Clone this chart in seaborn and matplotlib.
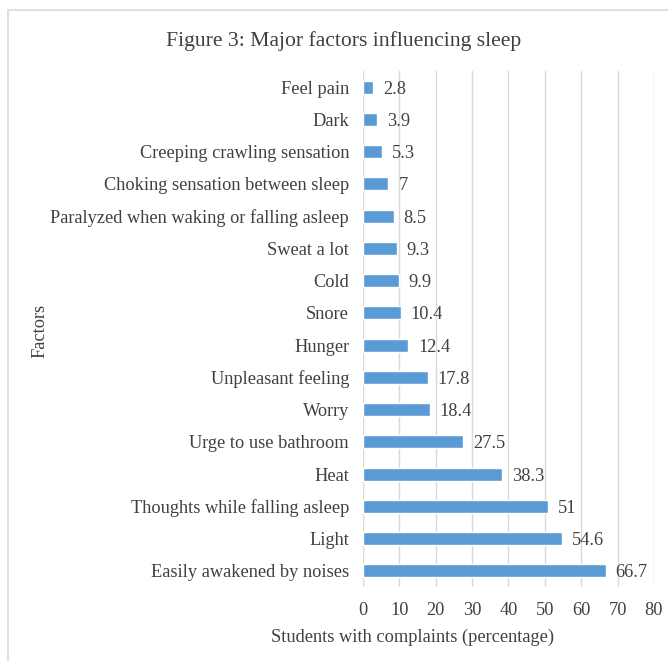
import matplotlib
matplotlib.use("Agg")
import matplotlib.pyplot as plt
import seaborn as sns
import pandas as pd
from matplotlib.patches import Rectangle

factors = ["Feel pain", "Dark", "Creeping crawling sensation",
           "Choking sensation between sleep", "Paralyzed when waking or falling asleep",
           "Sweat a lot", "Cold", "Snore", "Hunger", "Unpleasant feeling", "Worry",
           "Urge to use bathroom", "Heat", "Thoughts while falling asleep", "Light",
           "Easily awakened by noises"]
values = [2.8, 3.9, 5.3, 7, 8.5, 9.3, 9.9, 10.4, 12.4, 17.8, 18.4, 27.5, 38.3, 51, 54.6, 66.7]
labels = ["2.8", "3.9", "5.3", "7", "8.5", "9.3", "9.9", "10.4", "12.4", "17.8", "18.4",
          "27.5", "38.3", "51", "54.6", "66.7"]
xticks = [0, 10, 20, 30, 40, 50, 60, 70, 80]

df = pd.DataFrame({"Factor": factors, "Value": values})

sns.set_style("white")
plt.rcParams["font.family"] = ["Liberation Serif", "DejaVu Serif"]
txt = "#404040"
fs = 13.2

fig = plt.figure(figsize=(6.68, 6.61), dpi=100)
ax = fig.add_axes([0.5434, 0.112, 0.4356, 0.7806])

sns.barplot(data=df, y="Factor", x="Value", orient="h", color="#5B9BD5",
            saturation=1, width=0.4, ax=ax)

# data labels next to each bar
for i, (v, lab) in enumerate(zip(values, labels)):
    ax.text(v + 2.7, i + 0.06, lab, va="center", ha="left", fontsize=fs, color=txt)

ax.set_xlim(0, 80)
ax.set_ylim(15.5, -0.5)
ax.set_xticks(xticks)
ax.xaxis.grid(True, color="#D9D9D9", linewidth=1)
ax.set_axisbelow(True)
for s in ax.spines.values():
    s.set_visible(False)
ax.tick_params(axis="both", length=0, labelsize=fs, colors=txt)
ax.tick_params(axis="x", pad=11)
ax.tick_params(axis="y", pad=10)
ax.set_xlabel("")
ax.set_ylabel("")

fig.text(0.618, 0.036, "Students with complaints (percentage)", ha="center", va="center",
         fontsize=fs, color=txt)
fig.text(0.06, 0.5, "Factors", rotation=90, ha="center", va="center", fontsize=fs, color=txt)
fig.text(0.515, 0.938, "Figure 3: Major factors influencing sleep", ha="center", va="center",
         fontsize=15.6, color=txt)

# chart frame
fig.patches.append(Rectangle((8 / 668, -0.1), 1.2, 1 - 10 / 661 + 0.1, transform=fig.transFigure,
                             fill=False, edgecolor="#D9D9D9", linewidth=1.2))

fig.savefig("out.png", dpi=100)
